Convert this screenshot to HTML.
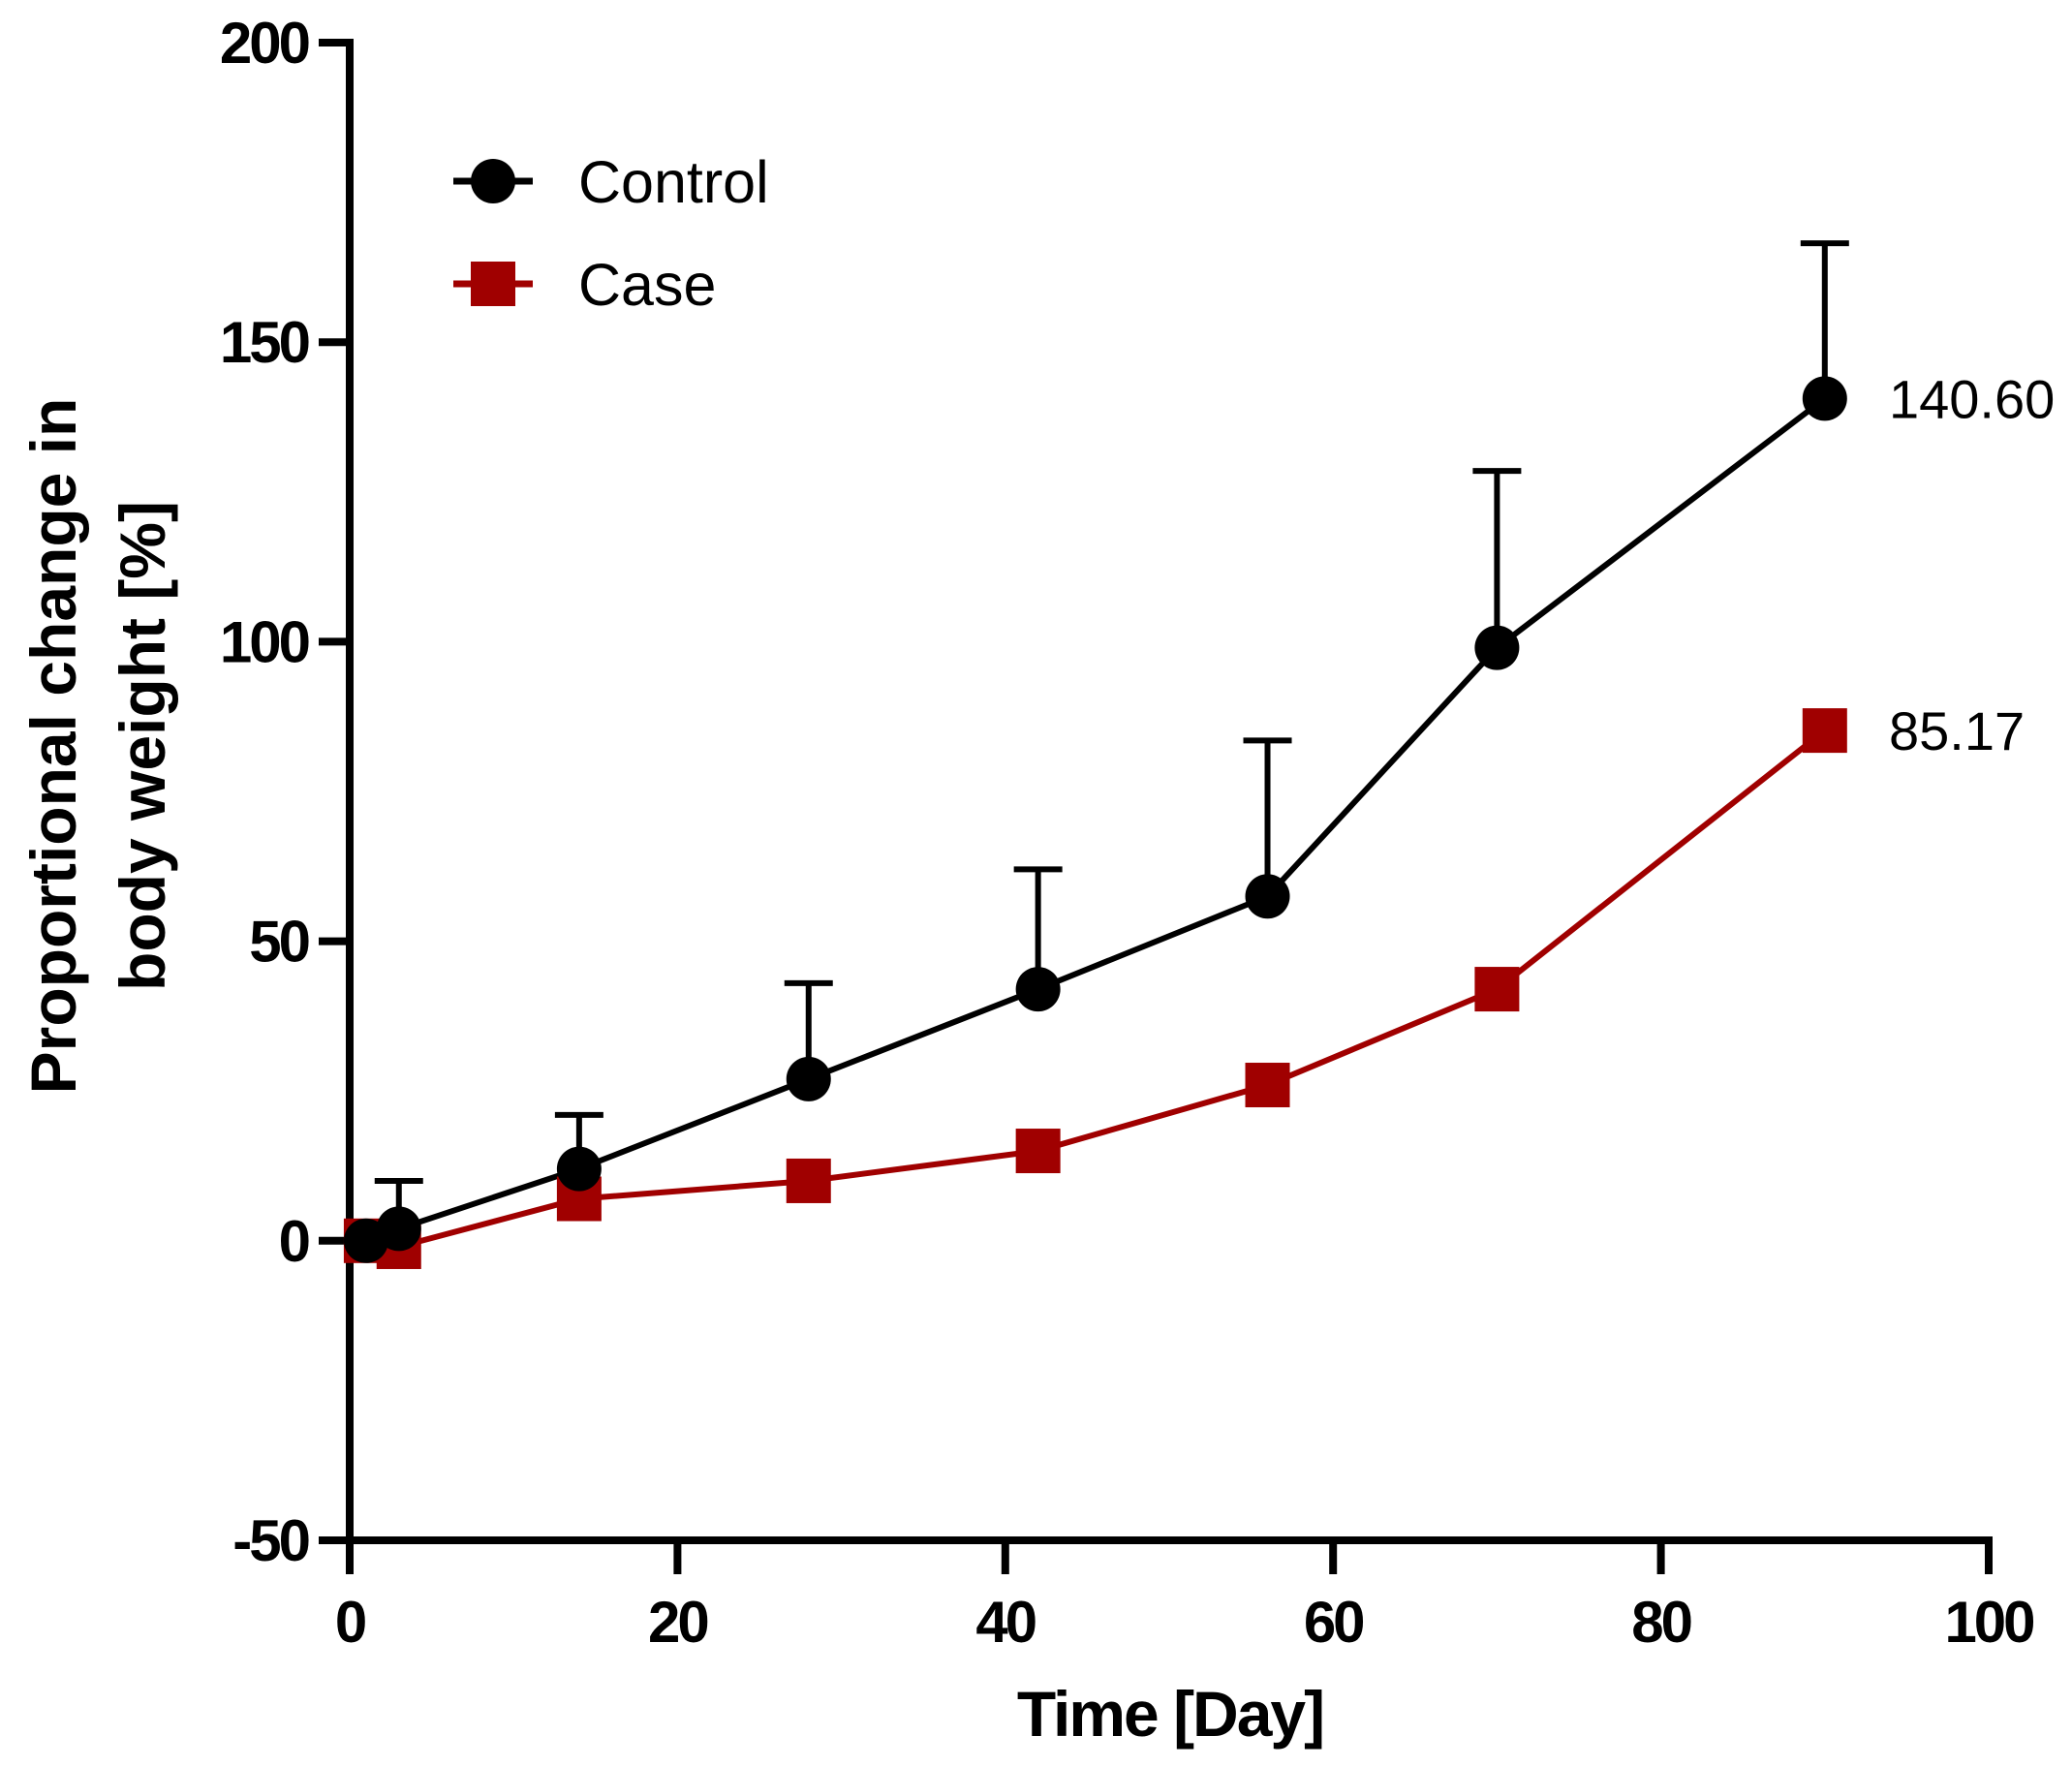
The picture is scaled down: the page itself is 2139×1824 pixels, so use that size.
<!DOCTYPE html>
<html><head><meta charset="utf-8"><style>
body{margin:0;background:#fff;}
svg{display:block;font-family:"Liberation Sans",Arial,sans-serif;}
</style></head><body>
<svg id="chart" width="2139" height="1824" viewBox="0 0 2139 1824"></svg>
<script>
const days = [1, 3, 14, 28, 42, 56, 70, 90];
const controlMean = [0, 2, 12, 27, 42, 57.5, 99, 140.6];
const controlUpper = [0, 10, 21, 43, 62, 83.5, 128.5, 166.5];
const caseMean = [0, -1, 7, 10, 15, 26, 42, 85.17];
const xTicks = [0, 20, 40, 60, 80, 100];
const yTicks = [-50, 0, 50, 100, 150, 200];
const annotations = ["140.60", "85.17"];

const NS = "http://www.w3.org/2000/svg";
const svg = document.getElementById("chart");
const X0 = 361, X1 = 2053, Y0 = 1590, Y1 = 44;
const xs = d => X0 + (d - 0) / 100 * (X1 - X0);
const ys = v => Y0 - (v + 50) / 250 * (Y0 - Y1);
function mk(tag, attrs, text) {
  const e = document.createElementNS(NS, tag);
  for (const k in attrs) e.setAttribute(k, attrs[k]);
  if (text !== undefined) e.textContent = text;
  svg.appendChild(e);
  return e;
}
let e;
e = mk("line", {x1: X0, y1: Y1 - 4, x2: X0, y2: Y0 + 35, stroke: "#000", "stroke-width": 8});


e = mk("line", {x1: X0 - 4, y1: Y0, x2: X1 + 4, y2: Y0, stroke: "#000", "stroke-width": 8});


yTicks.forEach(t => {
  const y = ys(t);
  e = mk("line", {x1: X0 - 32, y1: y, x2: X0, y2: y, stroke: "#000", "stroke-width": 8});
  
  
  e = mk("text", {x: 318, y: y + 21, "text-anchor": "end", "font-size": 60, "font-weight": "bold", "letter-spacing": "-3"}, String(t));
  
  
});
xTicks.forEach(t => {
  const x = xs(t);
  e = mk("line", {x1: x, y1: Y0, x2: x, y2: Y0 + 35, stroke: "#000", "stroke-width": 8});
  
  
  e = mk("text", {x: x, y: 1695, "text-anchor": "middle", "font-size": 60, "font-weight": "bold", "letter-spacing": "-3"}, String(t));
  
  
});
e = mk("text", {x: 1208, y: 1792, "text-anchor": "middle", "font-size": 66, "font-weight": "bold", "letter-spacing": "-2"}, "Time [Day]");


e = mk("text", {x: 0, y: 0, "text-anchor": "middle", "font-size": 66, "font-weight": "bold", transform: "translate(78,770) rotate(-90)"}, "Proportional change in");


e = mk("text", {x: 0, y: 0, "text-anchor": "middle", "font-size": 66, "font-weight": "bold", transform: "translate(170,770) rotate(-90)"}, "body weight [%]");


days.forEach((d, i) => {
  if (controlUpper[i] <= controlMean[i]) return;
  const x = xs(d);
  e = mk("line", {x1: x, y1: ys(controlMean[i]), x2: x, y2: ys(controlUpper[i]), stroke: "#000", "stroke-width": 6});
  
  
  e = mk("line", {x1: x - 25, y1: ys(controlUpper[i]), x2: x + 25, y2: ys(controlUpper[i]), stroke: "#000", "stroke-width": 6});
  
  
});
e = mk("polyline", {points: days.map((d, i) => xs(d) + "," + ys(caseMean[i])).join(" "), fill: "none", stroke: "#a00000", "stroke-width": 6});


e = mk("polyline", {points: days.map((d, i) => xs(d) + "," + ys(controlMean[i])).join(" "), fill: "none", stroke: "#000", "stroke-width": 6});


days.forEach((d, i) => {
  e = mk("rect", {x: xs(d) - 23, y: ys(caseMean[i]) - 23, width: 46, height: 46, fill: "#a00000"});
  
  
});
days.forEach((d, i) => {
  e = mk("circle", {cx: xs(d), cy: ys(controlMean[i]), r: 23, fill: "#000"});
  
  
});
const last = days.length - 1;
e = mk("text", {x: 1950, y: ys(controlMean[last]) + 20, "font-size": 56}, annotations[0]);


e = mk("text", {x: 1950, y: ys(caseMean[last]) + 20, "font-size": 56}, annotations[1]);


e = mk("line", {x1: 468, y1: 187, x2: 550, y2: 187, stroke: "#000", "stroke-width": 7});


e = mk("circle", {cx: 509, cy: 187, r: 23, fill: "#000"});


e = mk("text", {x: 597, y: 209, "font-size": 61}, "Control");


e = mk("line", {x1: 468, y1: 293, x2: 550, y2: 293, stroke: "#a00000", "stroke-width": 7});


e = mk("rect", {x: 486, y: 270, width: 46, height: 46, fill: "#a00000"});


e = mk("text", {x: 597, y: 315, "font-size": 61}, "Case");


</script>
</body></html>
